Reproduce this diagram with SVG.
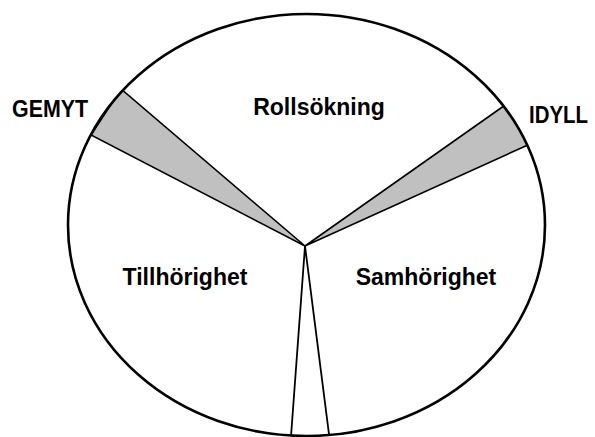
<svg xmlns="http://www.w3.org/2000/svg" width="595" height="437" viewBox="0 0 595 437">
  <style>
    .lbl { font-family: "Liberation Sans", Arial, sans-serif; font-weight: bold; font-size: 23px; fill: #000; }
    .wedge { fill: #c0c0c0; stroke: #000; stroke-width: 1.6; stroke-linejoin: miter; }
    .spoke { fill: none; stroke: #000; stroke-width: 1.8; }
  </style>
  <defs>
    <clipPath id="inside">
      <ellipse cx="306.5" cy="225" rx="238.5" ry="211"/>
    </clipPath>
  </defs>
  <rect width="595" height="437" fill="#fff"/>
  <g id="connectors" clip-path="url(#inside)">
    <polygon class="wedge" points="305,246 121,89 91,135"/>
    <polygon class="wedge" points="305,246 508,103 530,144"/>
    <polyline class="spoke" points="290,450 305,246 331,450"/>
  </g>
  <g id="circle">
    <ellipse cx="306.5" cy="225" rx="238.5" ry="211" fill="none" stroke="#000" stroke-width="2.6"/>
  </g>
  <g id="rollsokning"><text class="lbl" x="319" y="115" text-anchor="middle">Rollsökning</text></g>
  <g id="gemyt"><text class="lbl" x="50" y="117" text-anchor="middle" textLength="76" lengthAdjust="spacingAndGlyphs">GEMYT</text></g>
  <g id="idyll"><text class="lbl" x="558.5" y="122.5" text-anchor="middle" textLength="59" lengthAdjust="spacingAndGlyphs">IDYLL</text></g>
  <g id="tillhorighet"><text class="lbl" x="185" y="285" text-anchor="middle">Tillhörighet</text></g>
  <g id="samhorighet"><text class="lbl" x="426" y="285" text-anchor="middle">Samhörighet</text></g>
</svg>
